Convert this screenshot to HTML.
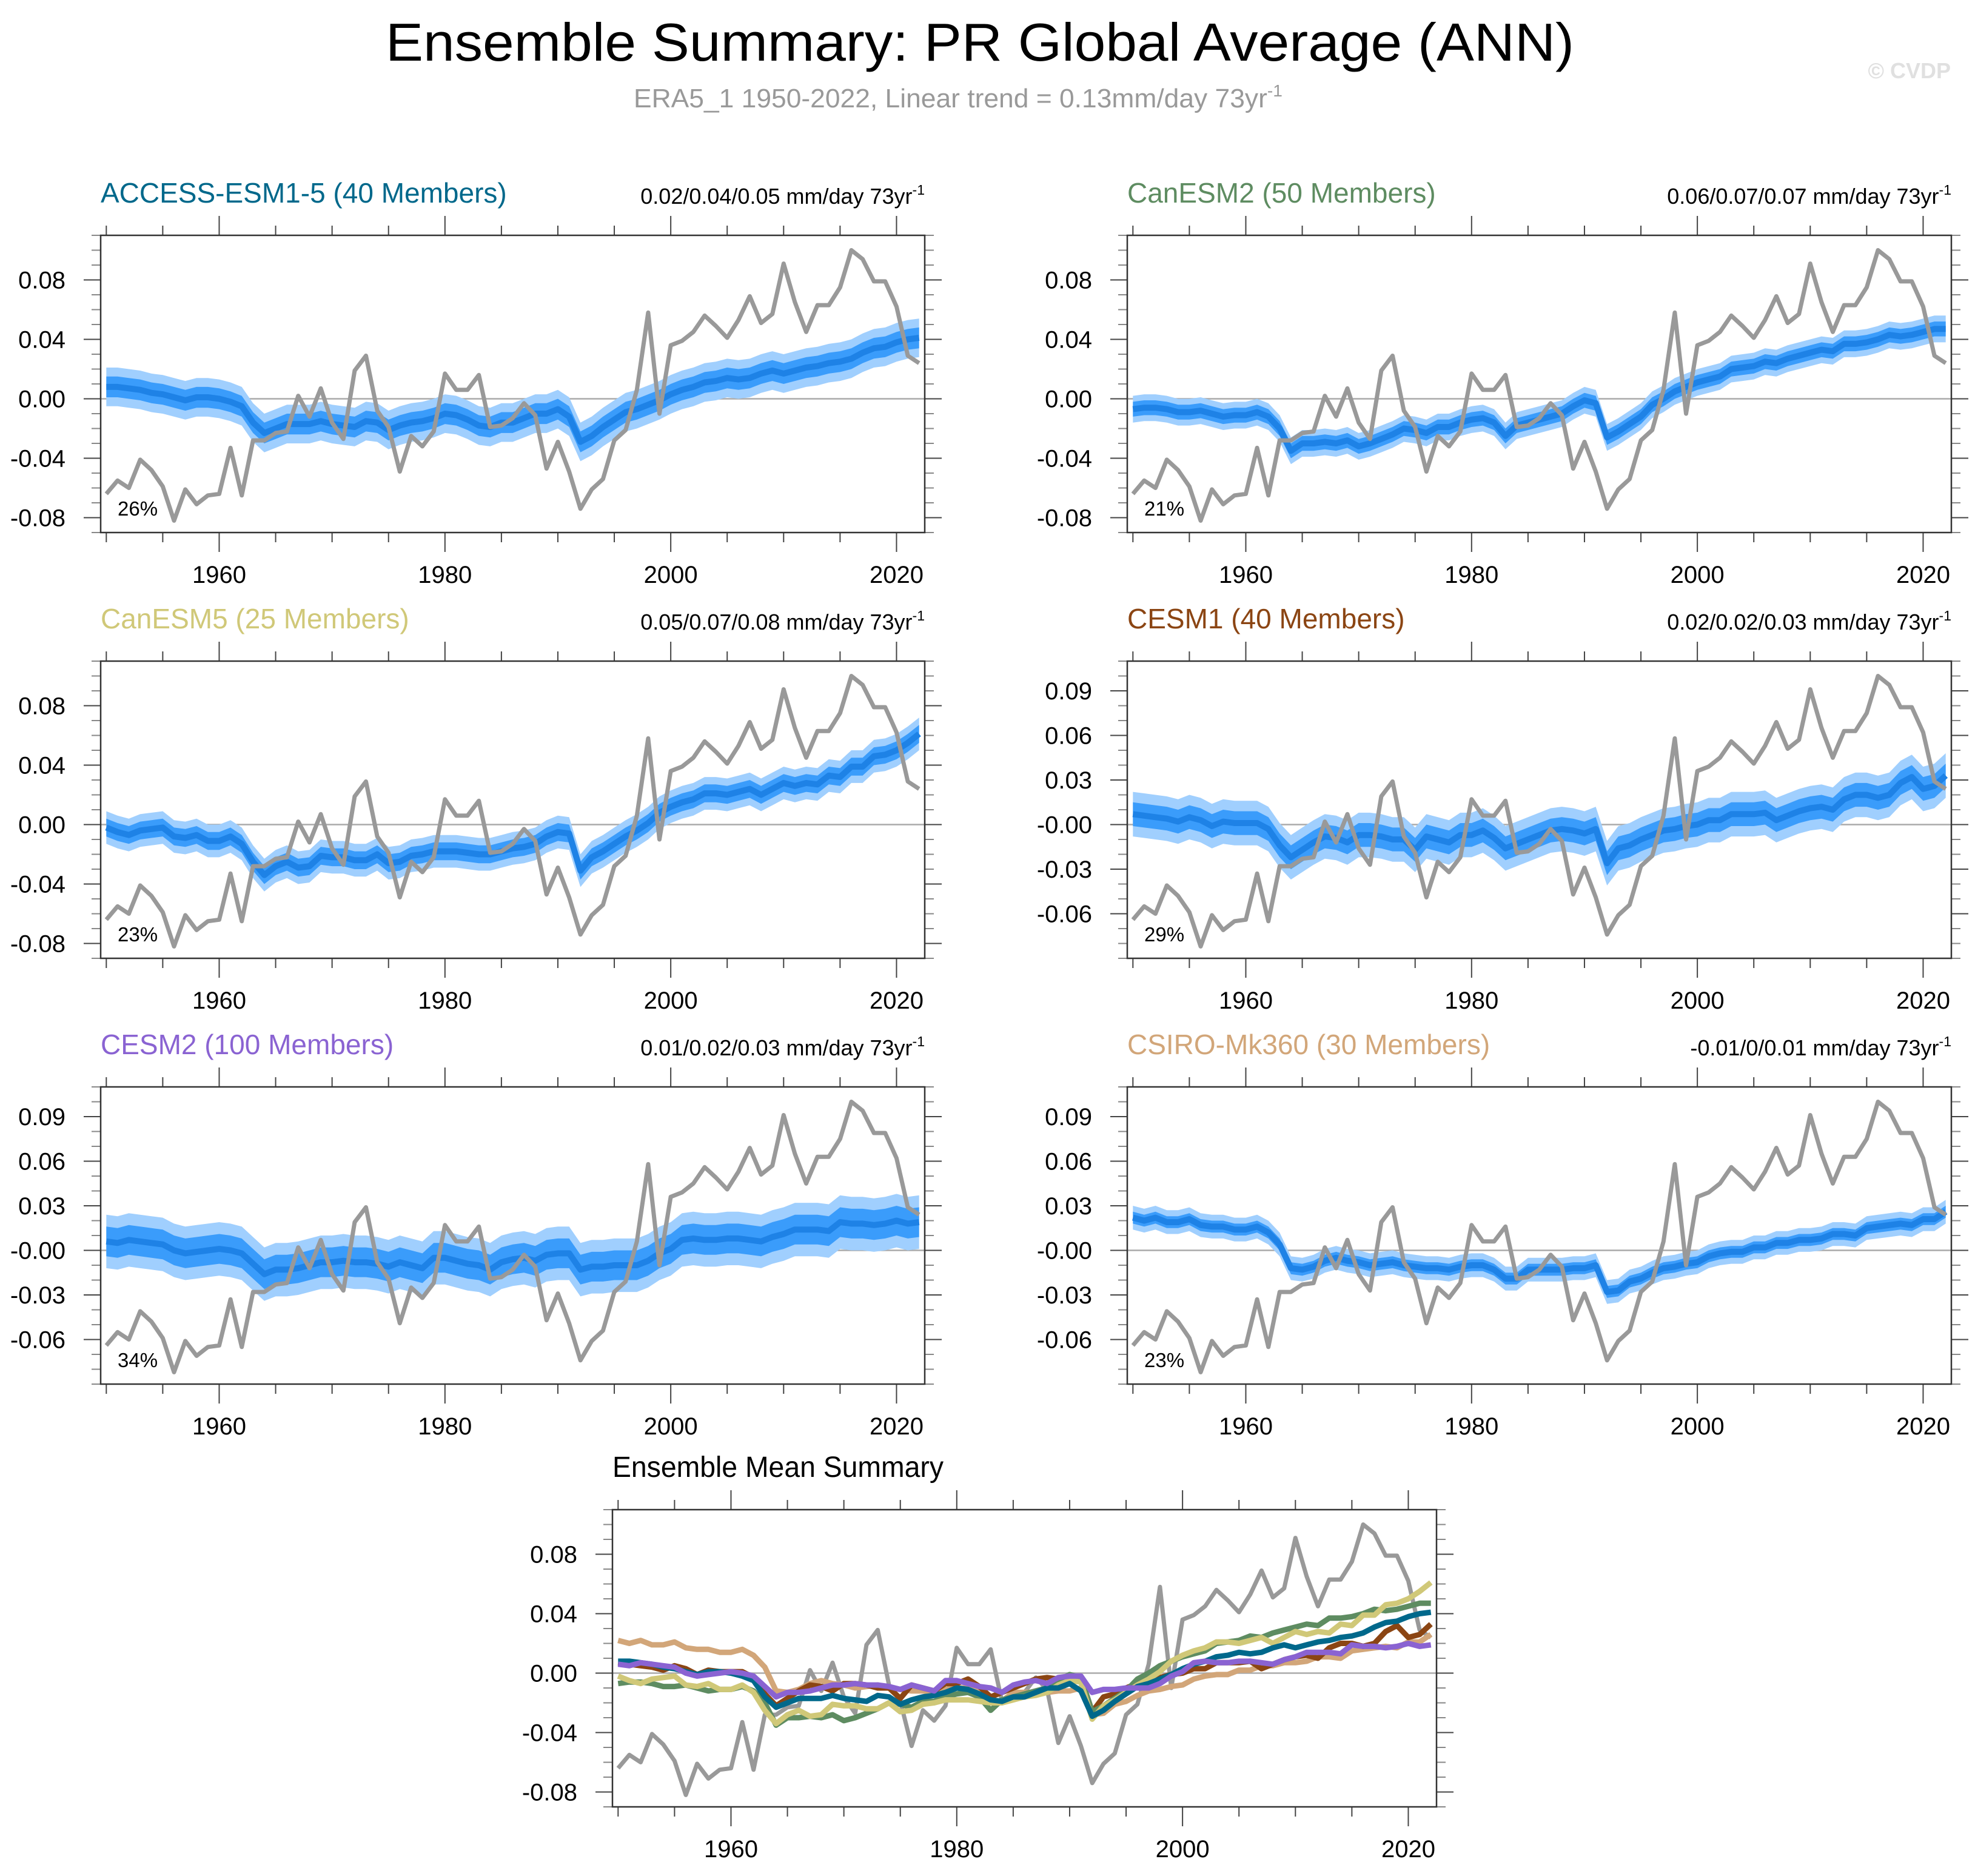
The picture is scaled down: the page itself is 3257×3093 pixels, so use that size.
<!DOCTYPE html>
<html><head><meta charset="utf-8"><title>Ensemble Summary: PR Global Average (ANN)</title>
<style>html,body{margin:0;padding:0;background:#fff}svg{display:block}text{font-family:"Liberation Sans",sans-serif}</style>
</head><body>
<svg id="chart" xmlns="http://www.w3.org/2000/svg" width="3257" height="3093" viewBox="0 0 3257 3093">
<rect width="3257" height="3093" fill="#fff"/>
<text x="1616" y="100" font-size="88" text-anchor="middle" textLength="1960" lengthAdjust="spacingAndGlyphs" fill="#000">Ensemble Summary: PR Global Average (ANN)</text>
<text x="1045" y="177" font-size="44" fill="#999" textLength="1070" lengthAdjust="spacingAndGlyphs">ERA5_1 1950-2022, Linear trend = 0.13mm/day 73yr<tspan font-size="28" dy="-18">-1</tspan></text>
<text x="3217" y="129" font-size="36" font-weight="bold" fill="#e0e0e0" text-anchor="end">© CVDP</text>
<g id="plots"></g>
</svg>
<script>
const years = [];
for (let y = 1950; y <= 2022; y++) years.push(y);
const era5 = [-0.064,-0.055,-0.060,-0.041,-0.048,-0.059,-0.082,-0.061,-0.071,-0.065,
-0.064,-0.033,-0.065,-0.028,-0.028,-0.023,-0.022,0.002,-0.012,0.007,
-0.016,-0.027,0.019,0.029,-0.008,-0.019,-0.049,-0.025,-0.032,-0.022,
0.017,0.006,0.006,0.016,-0.019,-0.018,-0.013,-0.003,-0.011,-0.047,
-0.029,-0.049,-0.074,-0.061,-0.054,-0.028,-0.021,0.006,0.058,-0.010,
0.036,0.039,0.045,0.056,0.049,0.041,0.053,0.069,0.051,0.057,
0.091,0.065,0.045,0.063,0.063,0.075,0.100,0.094,0.079,0.079,
0.062,0.029,0.024];
const accessMean = [.008,.008,.007,.006,.004,.003,.001,-.001,.001,.001,
.000,-.002,-.005,-.016,-.023,-.020,-.017,-.017,-.017,-.015,
-.017,-.018,-.019,-.015,-.016,-.021,-.018,-.016,-.015,-.013,
-.010,-.011,-.014,-.018,-.019,-.016,-.016,-.013,-.010,-.010,
-.007,-.012,-.029,-.025,-.019,-.014,-.009,-.007,-.004,-.001,
.003,.006,.008,.011,.012,.014,.013,.014,.017,.019,
.017,.019,.021,.022,.024,.025,.027,.031,.034,.035,
.038,.040,.041];
const canesm2Mean = [-.007,-.006,-.006,-.007,-.009,-.009,-.008,-.010,-.012,-.011,
-.011,-.009,-.012,-.020,-.035,-.030,-.030,-.029,-.030,-.028,
-.032,-.030,-.027,-.024,-.020,-.021,-.023,-.019,-.019,-.016,
-.014,-.013,-.016,-.025,-.018,-.016,-.014,-.012,-.010,-.005,
-.001,-.003,-.026,-.022,-.017,-.012,-.004,.000,.005,.008,
.011,.013,.015,.020,.021,.022,.025,.024,.027,.029,
.031,.033,.032,.037,.037,.038,.040,.043,.042,.043,
.045,.047,.047];
const canesm5Mean = [-.002,-.005,-.007,-.004,-.003,-.002,-.008,-.009,-.007,-.011,
-.011,-.008,-.013,-.025,-.034,-.028,-.025,-.029,-.028,-.021,
-.022,-.022,-.024,-.024,-.020,-.026,-.025,-.021,-.020,-.018,
-.018,-.018,-.019,-.020,-.020,-.018,-.016,-.015,-.013,-.008,
-.005,-.006,-.031,-.022,-.018,-.013,-.008,-.004,.001,.008,
.012,.015,.017,.021,.021,.020,.022,.024,.020,.024,
.028,.026,.028,.027,.033,.032,.039,.039,.046,.047,
.050,.055,.061];
const cesm1Mean = [.007,.006,.005,.004,.002,.005,.003,-.001,.002,.001,
.001,.001,-.003,-.014,-.022,-.017,-.012,-.008,-.009,-.012,
-.007,-.007,-.008,-.010,-.010,-.017,-.008,-.010,-.012,-.007,
-.007,-.004,-.009,-.016,-.013,-.010,-.007,-.004,-.003,-.004,
-.006,-.003,-.026,-.016,-.014,-.010,-.007,-.004,-.003,-.001,
.000,.003,.003,.007,.007,.007,.008,.003,.006,.009,
.011,.012,.010,.017,.020,.020,.018,.020,.028,.032,
.024,.026,.033];
const cesm2Mean = [.006,.005,.007,.006,.005,.004,.000,-.002,-.001,.000,
.001,.000,-.002,-.009,-.016,-.013,-.013,-.012,-.010,-.008,
-.008,-.007,-.008,-.008,-.009,-.011,-.008,-.010,-.012,-.005,
-.005,-.007,-.009,-.010,-.013,-.008,-.006,-.005,-.007,-.003,
-.002,-.002,-.013,-.011,-.011,-.010,-.010,-.010,-.007,-.002,
.001,.007,.008,.007,.007,.008,.008,.007,.006,.009,
.011,.014,.014,.014,.013,.019,.018,.018,.017,.018,
.020,.018,.019];
const csiroMean = [.022,.020,.022,.019,.019,.021,.017,.016,.016,.014,
.014,.016,.012,.004,-.012,-.013,-.011,-.007,-.005,-.007,
-.008,-.010,-.009,-.008,-.010,-.011,-.012,-.012,-.013,-.011,
-.010,-.010,-.013,-.019,-.019,-.013,-.013,-.013,-.013,-.012,
-.012,-.010,-.028,-.027,-.021,-.019,-.015,-.012,-.011,-.009,
-.008,-.004,-.002,-.001,-.001,.002,.002,.005,.005,.007,
.007,.008,.011,.011,.010,.015,.016,.017,.018,.017,
.021,.021,.026];
const modelNames = ["ACCESS-ESM1-5 (40 Members)","CanESM2 (50 Members)","CanESM5 (25 Members)","CESM1 (40 Members)","CESM2 (100 Members)","CSIRO-Mk360 (30 Members)"];
const trendLabels = ["0.02/0.04/0.05 mm/day 73yr","0.06/0.07/0.07 mm/day 73yr","0.05/0.07/0.08 mm/day 73yr","0.02/0.02/0.03 mm/day 73yr","0.01/0.02/0.03 mm/day 73yr","-0.01/0/0.01 mm/day 73yr"];
const pctLabels = ["26%","21%","23%","29%","34%","23%"];
const innerHalf = [0.007,0.005,0.006,0.008,0.010,0.004];
const outerHalf = [0.013,0.009,0.011,0.015,0.018,0.008];
const ticks04 = [0.08,0.04,0.00,-0.04,-0.08];
const ticks04Labels = ["0.08","0.04","0.00","-0.04","-0.08"];
const ticks03 = [0.09,0.06,0.03,0.00,-0.03,-0.06];
const ticks03Labels = ["0.09","0.06","0.03","-0.00","-0.03","-0.06"];
const xTicks = [1960,1980,2000,2020];
const means = [accessMean,canesm2Mean,canesm5Mean,cesm1Mean,cesm2Mean,csiroMean];
const colors = ["#00688b","#5e8c61","#d0c878","#8b4513","#8a63d2","#d2a679"];
const tickSets = [0,0,0,1,1,1];

const NS = "http://www.w3.org/2000/svg";
const root = document.getElementById('plots');
function el(tag, attrs, parent) {
  const e = document.createElementNS(NS, tag);
  for (const k in attrs) e.setAttribute(k, attrs[k]);
  (parent || root).appendChild(e);
  return e;
}
const W = 1359, H = 490, YMAX = 0.11, YMIN = -0.09;

function drawPanel(left, top, idx, title, titleColor, trend, pct, ytv, ytl, name, titleSize, titleLen) {
  const g = el('g', {});
  
  
  const X = yr => left + (yr - 1949.5) / 73 * W;
  const Y = v => top + (YMAX - v) / (YMAX - YMIN) * H;
  const tAttrs = {x: left, y: top - 54, 'font-size': titleSize, fill: titleColor};
  if (titleLen) { tAttrs.textLength = titleLen; tAttrs.lengthAdjust = 'spacingAndGlyphs'; }
  const t = el('text', tAttrs, g);
  t.textContent = title;
  
  
  if (trend) {
    const tr = el('text', {x: left + W, y: top - 52, 'font-size': 36, fill: '#000', 'text-anchor': 'end'}, g);
    tr.textContent = trend;
    const sup = el('tspan', {'font-size': 23, dy: -15}, tr);
    sup.textContent = '-1';
    
    
  }
  for (let yr = 1950; yr <= 2020; yr += 5) {
    const major = (yr % 20 === 0);
    const len = major ? 32 : 16;
    el('line', {x1: X(yr), x2: X(yr), y1: top, y2: top - len, stroke: '#444', 'stroke-width': 2}, g);
    el('line', {x1: X(yr), x2: X(yr), y1: top + H, y2: top + H + len, stroke: '#444', 'stroke-width': 2}, g);
  }
  xTicks.forEach(yr => {
    const lt = el('text', {x: X(yr), y: top + H + 83, 'font-size': 40, 'text-anchor': 'middle', fill: '#000'}, g);
    lt.textContent = String(yr);
    
    
  });
  for (let k = -9; k <= 11; k++) {
    const v = k / 100;
    el('line', {x1: left, x2: left - 15, y1: Y(v), y2: Y(v), stroke: '#888', 'stroke-width': 2}, g);
    el('line', {x1: left + W, x2: left + W + 15, y1: Y(v), y2: Y(v), stroke: '#888', 'stroke-width': 2}, g);
  }
  ytv.forEach((v, i) => {
    el('line', {x1: left, x2: left - 28, y1: Y(v), y2: Y(v), stroke: '#444', 'stroke-width': 2}, g);
    el('line', {x1: left + W, x2: left + W + 28, y1: Y(v), y2: Y(v), stroke: '#444', 'stroke-width': 2}, g);
    const lt = el('text', {x: left - 58, y: Y(v) + 14, 'font-size': 40, 'text-anchor': 'end', fill: '#000'}, g);
    lt.textContent = ytl[i];
    
    
  });
  el('line', {x1: left, x2: left + W, y1: Y(0), y2: Y(0), stroke: '#aaa', 'stroke-width': 2.5}, g);
  const lineStr = arr => arr.map((v, i) => X(years[i]).toFixed(1) + ',' + Y(v).toFixed(1)).join(' ');
  if (idx >= 0) {
    const m = means[idx];
    const band = h => {
      const up = m.map((v, i) => X(years[i]).toFixed(1) + ',' + Y(v + h).toFixed(1));
      const dn = m.map((v, i) => X(years[i]).toFixed(1) + ',' + Y(v - h).toFixed(1)).reverse();
      return up.concat(dn).join(' ');
    };
    const ob = el('polygon', {points: band(outerHalf[idx]), fill: '#a0cffe'}, g);
    
    
    const ib = el('polygon', {points: band(innerHalf[idx]), fill: '#3a9cfb'}, g);
    
    
    const ml = el('polyline', {points: lineStr(m), fill: 'none', stroke: '#1e82e6', 'stroke-width': 10, 'stroke-linejoin': 'round'}, g);
    
    
    const ol = el('polyline', {points: lineStr(era5), fill: 'none', stroke: '#999', 'stroke-width': 7, 'stroke-linejoin': 'round'}, g);
    
    
    const pt = el('text', {x: left + 28, y: top + H - 28, 'font-size': 33, fill: '#000'}, g);
    pt.textContent = pct;
    
    
  } else {
    const ol = el('polyline', {points: lineStr(era5), fill: 'none', stroke: '#999', 'stroke-width': 7, 'stroke-linejoin': 'round'}, g);
    
    
    const order = [5, 3, 1, 2, 0, 4];
    order.forEach(k => {
      const pl = el('polyline', {points: lineStr(means[k]), fill: 'none', stroke: colors[k], 'stroke-width': 9, 'stroke-linejoin': 'round'}, g);
      
      
    });
  }
  el('rect', {x: left, y: top, width: W, height: H, fill: 'none', stroke: '#333', 'stroke-width': 2.5}, g);
}

const lefts = [166, 1859];
const tops = [388, 1090, 1792];
for (let i = 0; i < 6; i++) {
  const ts = tickSets[i];
  drawPanel(lefts[i % 2], tops[Math.floor(i / 2)], i, modelNames[i], colors[i], trendLabels[i], pctLabels[i],
    ts ? ticks03 : ticks04, ts ? ticks03Labels : ticks04Labels, 'panel-' + modelNames[i].split(' ')[0].toLowerCase(), 46, null);
}
drawPanel(1010, 2489, -1, 'Ensemble Mean Summary', '#000', null, null, ticks04, ticks04Labels, 'ensemble-mean-summary-panel', 48, 546);
</script>
</body></html>
